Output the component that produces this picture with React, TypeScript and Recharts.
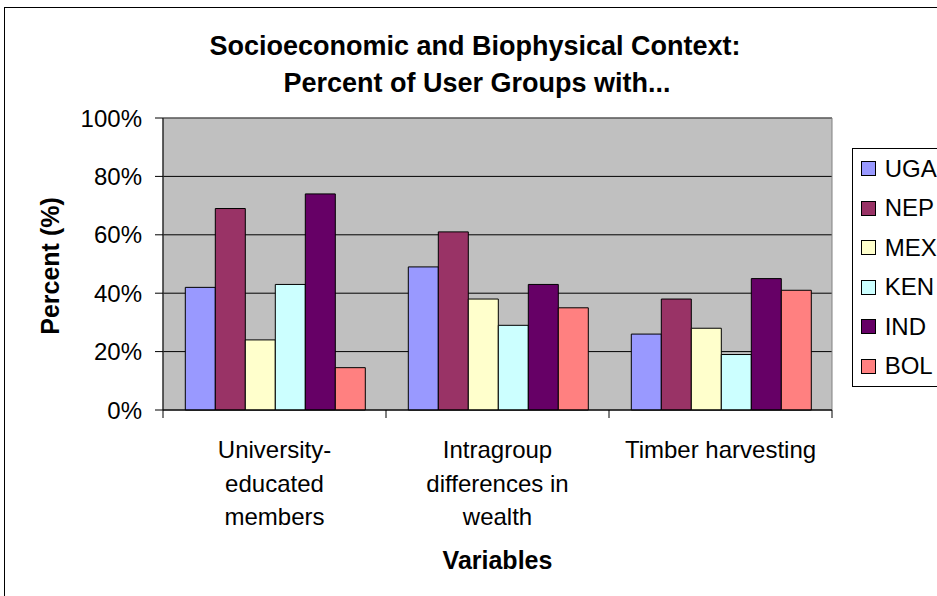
import React from 'react';
import { BarChart, Bar, XAxis, YAxis, CartesianGrid, Legend, ReferenceArea, Customized } from 'recharts';

// Categories and series
const categories = ['University-educated members', 'Intragroup differences in wealth', 'Timber harvesting'];
const categoryLines = [['University-', 'educated', 'members'], ['Intragroup', 'differences in', 'wealth'], ['Timber harvesting']];
const countries = ['UGA', 'NEP', 'MEX', 'KEN', 'IND', 'BOL'];
const uga = [42, 49, 26];
const nep = [69, 61, 38];
const mex = [24, 38, 28];
const ken = [43, 29, 19];
const ind = [74, 43, 45];
const bol = [14.5, 35, 41];
const yTicks = [0, 20, 40, 60, 80, 100];

const seriesValues = [uga, nep, mex, ken, ind, bol];
const colors = ['#9999FF', '#993366', '#FFFFCC', '#CCFFFF', '#660066', '#FF8080'];

const data = categories.map((name, i) => {
  const row: any = { name };
  countries.forEach((c, j) => { row[c] = seriesValues[j][i]; });
  return row;
});

const FONT = '"Liberation Sans", Arial, sans-serif';
const PLOT_W = 669; // fallback if the axis width isn't passed down

// label + Excel-style tick marks on the category boundaries
const CategoryTick = (props: any) => {
  const { x, y, payload, index } = props;
  const w = typeof props.width === 'number' && props.width > 0 ? props.width : PLOT_W;
  const half = w / categories.length / 2;
  const lines = categoryLines[categories.indexOf(payload.value)] || [payload.value];
  return (
    <g>
      <line x1={x - half} y1={y} x2={x - half} y2={y + 8} stroke="#000" />
      {index === categories.length - 1 && <line x1={x + half} y1={y} x2={x + half} y2={y + 8} stroke="#000" />}
      <text x={x} y={y + 48} textAnchor="middle" fontFamily={FONT} fontSize={24} fill="#000">
        {lines.map((l, i) => (
          <tspan key={i} x={x} dy={i === 0 ? 0 : 33.5}>{l}</tspan>
        ))}
      </text>
    </g>
  );
};

const LegendBox = () => (
  <div style={{ border: '1px solid #000', width: 120, height: 239, background: '#fff', boxSizing: 'border-box', fontFamily: FONT }}>
    {countries.map((c, i) => (
      <div key={c} style={{ height: 39.5, display: 'flex', alignItems: 'center' }}>
        <span style={{ width: 15, height: 15, marginLeft: 8, background: colors[i], border: '1px solid #000', boxSizing: 'border-box' }} />
        <span style={{ marginLeft: 9, fontSize: 24, color: '#000', lineHeight: '24px' }}>{c}</span>
      </div>
    ))}
  </div>
);

const Title = () => (
  <text x={470} textAnchor="middle" fontFamily={FONT} fontSize={27} fontWeight="bold" fill="#000">
    <tspan x={470} y={47}>Socioeconomic and Biophysical Context:</tspan>
    <tspan x={472} y={83.7}>Percent of User Groups with...</tspan>
  </text>
);

export default function App() {
  return (
    <div style={{ position: 'fixed', left: 0, top: 0, width: 937, height: 596, overflow: 'hidden', background: '#fff' }}>
      <div style={{ position: 'absolute', left: 4, top: 7, width: 1000, height: 640, border: '1px solid #000' }}>
        <BarChart
          width={1000}
          height={640}
          data={data}
          margin={{ top: 110, right: 173, left: 0, bottom: 38 }}
          barCategoryGap="10%"
          barGap={0}
        >
          <CartesianGrid vertical={false} stroke="#000" fill="#C0C0C0" fillOpacity={1} />
          <ReferenceArea y1={0} y2={100} fill="none" stroke="#808080" strokeWidth={1} ifOverflow="visible" />
          <XAxis
            dataKey="name"
            height={200}
            tickLine={false}
            tickSize={0}
            tickMargin={0}
            axisLine={{ stroke: '#000' }}
            tick={<CategoryTick />}
            interval={0}
            label={{
              content: (p: any) => {
                const vb = p.viewBox;
                return (
                  <text x={vb.x + vb.width / 2} y={vb.y + 159.3} textAnchor="middle" fontFamily={FONT} fontSize={25} fontWeight="bold" fill="#000">
                    Variables
                  </text>
                );
              },
            }}
          />
          <YAxis
            width={158}
            domain={[0, 100]}
            ticks={yTicks}
            tickFormatter={(v: number) => `${v}%`}
            tickSize={8}
            tickMargin={13}
            axisLine={{ stroke: '#000' }}
            tickLine={{ stroke: '#000' }}
            tick={{ fontFamily: FONT, fontSize: 24, fill: '#000' }}
            interval={0}
            label={{
              content: (p: any) => {
                const vb = p.viewBox;
                const cx = vb.x + 45;
                const cy = vb.y + vb.height / 2 + 2;
                return (
                  <text x={cx} y={cy} transform={`rotate(-90, ${cx}, ${cy})`} textAnchor="middle" dominantBaseline="central" fontFamily={FONT} fontSize={25} fontWeight="bold" fill="#000">
                    Percent (%)
                  </text>
                );
              },
            }}
          />
          <Legend
            layout="vertical"
            align="center"
            verticalAlign="middle"
            content={<LegendBox />}
            wrapperStyle={{ left: 846.7, top: 140, width: 120, height: 239 }}
          />
          {countries.map((c, i) => (
            <Bar key={c} dataKey={c} fill={colors[i]} stroke="#000" strokeWidth={1} isAnimationActive={false} />
          ))}
          <Customized component={Title} />
        </BarChart>
      </div>
    </div>
  );
}
